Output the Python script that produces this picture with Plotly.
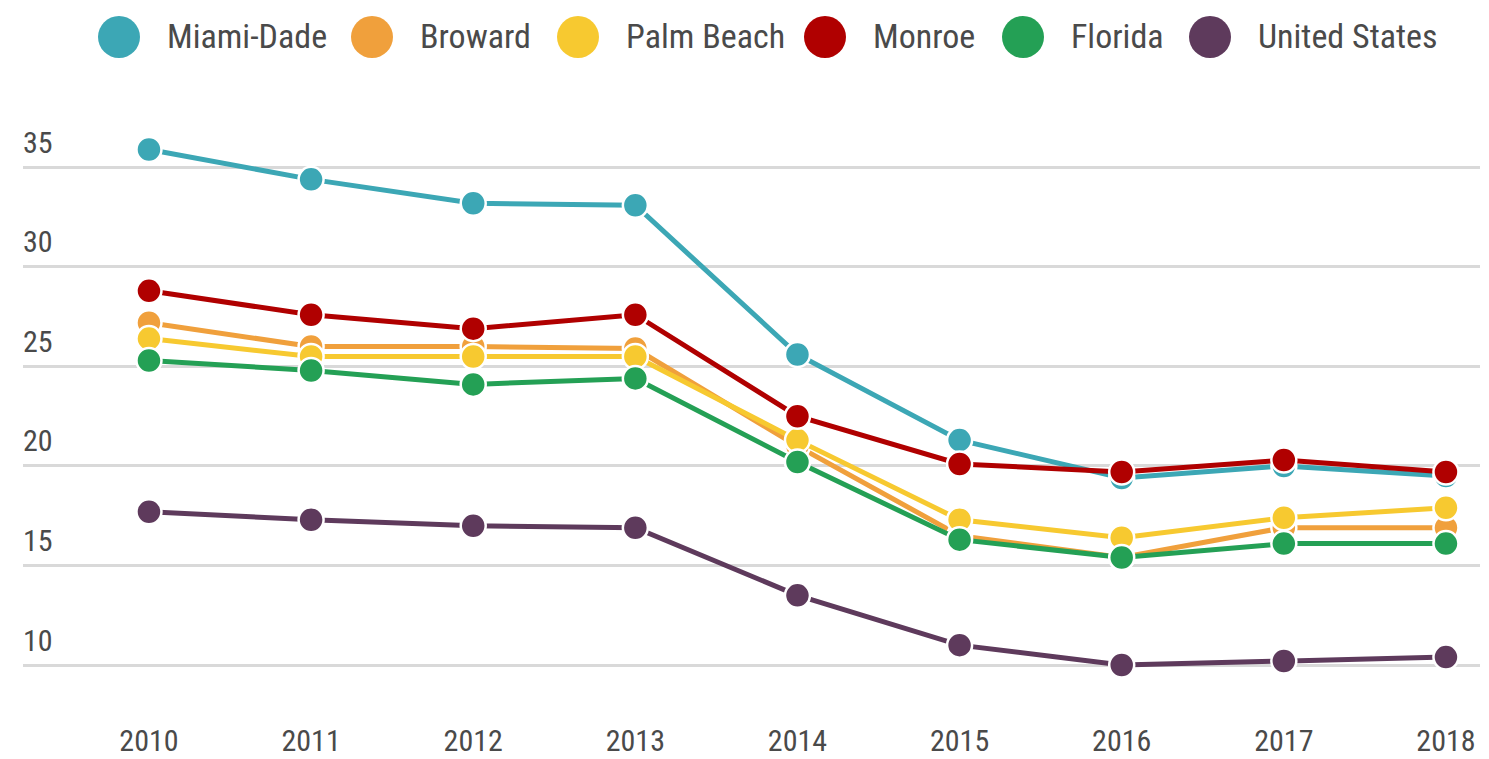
import plotly.graph_objects as go

years = [2010, 2011, 2012, 2013, 2014, 2015, 2016, 2017, 2018]
miami_dade = [35.9, 34.4, 33.2, 33.1, 25.6, 21.3, 19.4, 20.0, 19.5]
broward = [27.2, 26.0, 26.0, 25.9, 21.0, 16.5, 15.4, 16.9, 16.9]
palm_beach = [26.4, 25.5, 25.5, 25.5, 21.3, 17.3, 16.4, 17.4, 17.9]
monroe = [28.8, 27.6, 26.9, 27.6, 22.5, 20.1, 19.7, 20.3, 19.7]
florida = [25.3, 24.8, 24.1, 24.4, 20.2, 16.3, 15.4, 16.1, 16.1]
united_states = [17.7, 17.3, 17.0, 16.9, 13.5, 11.0, 10.0, 10.2, 10.4]

series_names = ["Miami-Dade", "Broward", "Palm Beach", "Monroe", "Florida", "United States"]
series_values = [miami_dade, broward, palm_beach, monroe, florida, united_states]
colors = ["#3ca7b5", "#f0a03c", "#f7c930", "#b00000", "#24a055", "#5e3a5c"]
y_ticks = [10, 15, 20, 25, 30, 35]

FONT = "Roboto Condensed, Liberation Sans Narrow, Arial Narrow, sans-serif"
TEXT = "#4a4a4a"

# page body has an 8px offset; compensate in layout
OFF = 8
W, H = 1489, 759
L = 23 - OFF
R = W - (1480 - OFF)
T = 130 - OFF
B = H - (715 - OFF)

fig = go.Figure()
for name, vals, col in zip(series_names, series_values, colors):
    fig.add_trace(go.Scatter(
        x=years, y=vals, name=name, mode="lines+markers",
        line=dict(color=col, width=5),
        marker=dict(color=col, size=25, line=dict(color="white", width=2.5)),
        showlegend=False,
    ))

# custom legend (large circles)
legend_x = [119, 372, 578, 825, 1023, 1210]
PW = W - L - R
for name, col, lx in zip(series_names, colors, legend_x):
    fig.add_shape(type="circle", xref="paper", yref="paper",
                  xsizemode="pixel", ysizemode="pixel",
                  xanchor=(lx - 23) / PW, yanchor=1.0,
                  x0=-21, x1=21, y0=72, y1=114,
                  fillcolor=col, line=dict(width=0))
    fig.add_annotation(xref="paper", yref="paper",
                       x=(lx - 23 + 46) / PW, y=1.0,
                       yshift=94, xanchor="left", yanchor="middle",
                       text=name, showarrow=False,
                       font=dict(family=FONT, size=34, color=TEXT))

fig.update_layout(
    width=W, height=H,
    margin=dict(l=L, r=R, t=T, b=B, autoexpand=False),
    paper_bgcolor="white", plot_bgcolor="white",
    font=dict(family=FONT, color=TEXT, size=30),
    xaxis=dict(range=[2009.223, 2018.21], tickvals=years,
               showgrid=False, zeroline=False, showline=False,
               ticks="", ticklabelstandoff=5, automargin=False,
               tickfont=dict(size=30, color=TEXT)),
    yaxis=dict(range=[7.49, 36.88], tickvals=y_ticks,
               showgrid=True, gridcolor="#d9d9d9", gridwidth=2.5,
               zeroline=False, showline=False, ticks="",
               ticklabelposition="inside top", ticklabeloverflow="allow",
               ticklabelstandoff=-3, ticklabelshift=-4, automargin=False,
               tickfont=dict(size=30, color=TEXT)),
    showlegend=False,
)

fig.write_html("out.html")
